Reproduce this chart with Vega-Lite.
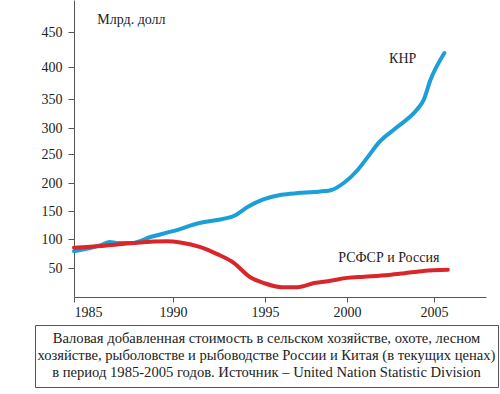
{
  "$schema": "https://vega.github.io/schema/vega-lite/v6.json",
  "padding": {"left": 34, "top": 0, "right": 0, "bottom": 0},
  "background": "white",
  "spacing": 5,
  "config": {
    "font": "Liberation Serif",
    "view": {"stroke": null},
    "axis": {
      "labelFont": "Liberation Serif",
      "labelFontSize": 14,
      "labelColor": "#222",
      "domainColor": "#555",
      "tickColor": "#555",
      "grid": false,
      "title": null,
      "labelOverlap": false
    }
  },
  "datasets": {
    "series": [
      {"country": "КНР", "year": 1985.0, "value": 79},
      {"country": "КНР", "year": 1986.4, "value": 90},
      {"country": "КНР", "year": 1986.8, "value": 95},
      {"country": "КНР", "year": 1987.2, "value": 93},
      {"country": "КНР", "year": 1987.9, "value": 93},
      {"country": "КНР", "year": 1988.9, "value": 104},
      {"country": "КНР", "year": 1990.0, "value": 114},
      {"country": "КНР", "year": 1991.5, "value": 129},
      {"country": "КНР", "year": 1992.4, "value": 134},
      {"country": "КНР", "year": 1993.3, "value": 141},
      {"country": "КНР", "year": 1994.1, "value": 158},
      {"country": "КНР", "year": 1994.95, "value": 171},
      {"country": "КНР", "year": 1996.0, "value": 179},
      {"country": "КНР", "year": 1997.0, "value": 182},
      {"country": "КНР", "year": 1998.0, "value": 184},
      {"country": "КНР", "year": 1999.0, "value": 187},
      {"country": "КНР", "year": 1999.8, "value": 200},
      {"country": "КНР", "year": 2000.6, "value": 222},
      {"country": "КНР", "year": 2001.2, "value": 245},
      {"country": "КНР", "year": 2001.8, "value": 271},
      {"country": "КНР", "year": 2002.9, "value": 302},
      {"country": "КНР", "year": 2004.0, "value": 331},
      {"country": "КНР", "year": 2004.4, "value": 348},
      {"country": "КНР", "year": 2004.8, "value": 380},
      {"country": "КНР", "year": 2005.6, "value": 420},
      {"country": "РСФСР и Россия", "year": 1985.0, "value": 85},
      {"country": "РСФСР и Россия", "year": 1986.4, "value": 88},
      {"country": "РСФСР и Россия", "year": 1988.0, "value": 93},
      {"country": "РСФСР и Россия", "year": 1989.7, "value": 96},
      {"country": "РСФСР и Россия", "year": 1990.4, "value": 94},
      {"country": "РСФСР и Россия", "year": 1991.5, "value": 86},
      {"country": "РСФСР и Россия", "year": 1992.4, "value": 74},
      {"country": "РСФСР и Россия", "year": 1993.3, "value": 59},
      {"country": "РСФСР и Россия", "year": 1994.2, "value": 34},
      {"country": "РСФСР и Россия", "year": 1994.95, "value": 24},
      {"country": "РСФСР и Россия", "year": 1996.0, "value": 17},
      {"country": "РСФСР и Россия", "year": 1997.0, "value": 17},
      {"country": "РСФСР и Россия", "year": 1998.0, "value": 24},
      {"country": "РСФСР и Россия", "year": 1999.0, "value": 28},
      {"country": "РСФСР и Россия", "year": 2000.0, "value": 33},
      {"country": "РСФСР и Россия", "year": 2001.0, "value": 35},
      {"country": "РСФСР и Россия", "year": 2002.4, "value": 38},
      {"country": "РСФСР и Россия", "year": 2003.3, "value": 41},
      {"country": "РСФСР и Россия", "year": 2004.4, "value": 45},
      {"country": "РСФСР и Россия", "year": 2005.8, "value": 47}
    ],
    "labels": [
      {"label": "КНР", "year": 2003.2, "value": 411},
      {"label": "РСФСР и Россия", "year": 2002.4, "value": 67},
      {"label": "Млрд. долл", "year": 1987.9, "value": 473}
    ],
    "caption": [
      {"line": 1, "text": "Валовая добавленная стоимость в сельском хозяйстве, охоте, лесном"},
      {"line": 2, "text": "хозяйстве, рыболовстве и рыбоводстве России и Китая (в текущих ценах)"},
      {"line": 3, "text": "в период 1985-2005 годов. Источник – United Nation Statistic Division"}
    ]
  },
  "vconcat": [
    {
      "width": 451,
      "height": 297,
      "layer": [
        {
          "data": {"name": "series"},
          "mark": {"type": "line", "interpolate": "monotone", "strokeWidth": 4, "strokeCap": "round"},
          "encoding": {
            "x": {
              "field": "year",
              "type": "quantitative",
              "scale": {"domain": [1985, 1990, 1995, 2000, 2005, 2008], "range": [39, 138, 230, 312, 399, 451], "nice": false, "zero": false},
              "axis": {"values": [1985, 1990, 1995, 2000, 2005], "tickCount": 20, "format": "d", "tickSize": 5, "labelPadding": 3}
            },
            "y": {
              "field": "value",
              "type": "quantitative",
              "scale": {"domain": [0, 50, 100, 150, 200, 250, 300, 350, 400, 450, 512], "range": [297, 268, 239, 211, 183, 154, 128, 99, 67, 32, 0], "nice": false, "zero": false},
              "axis": {"values": [50, 100, 150, 200, 250, 300, 350, 400, 450], "tickCount": 20, "tickSize": 6, "labelPadding": 6, "offset": -39, "labelOverlap": false}
            },
            "color": {
              "field": "country",
              "type": "nominal",
              "scale": {"domain": ["КНР", "РСФСР и Россия"], "range": ["#1a9fd6", "#d9262a"]},
              "legend": null
            }
          }
        },
        {
          "data": {"name": "labels"},
          "mark": {"type": "text", "fontSize": 14, "font": "Liberation Serif", "color": "#222"},
          "encoding": {
            "x": {"field": "year", "type": "quantitative"},
            "y": {"field": "value", "type": "quantitative"},
            "text": {"field": "label"}
          }
        }
      ]
    },
    {
      "width": 463,
      "height": 62,
      "view": {"stroke": "#555", "strokeWidth": 1},
      "data": {"name": "caption"},
      "mark": {"type": "text", "fontSize": 14.6, "font": "Liberation Serif", "color": "#222", "baseline": "middle"},
      "encoding": {
        "y": {"field": "line", "type": "ordinal", "scale": {"type": "point", "padding": 0.82}, "axis": null},
        "text": {"field": "text"}
      }
    }
  ]
}
